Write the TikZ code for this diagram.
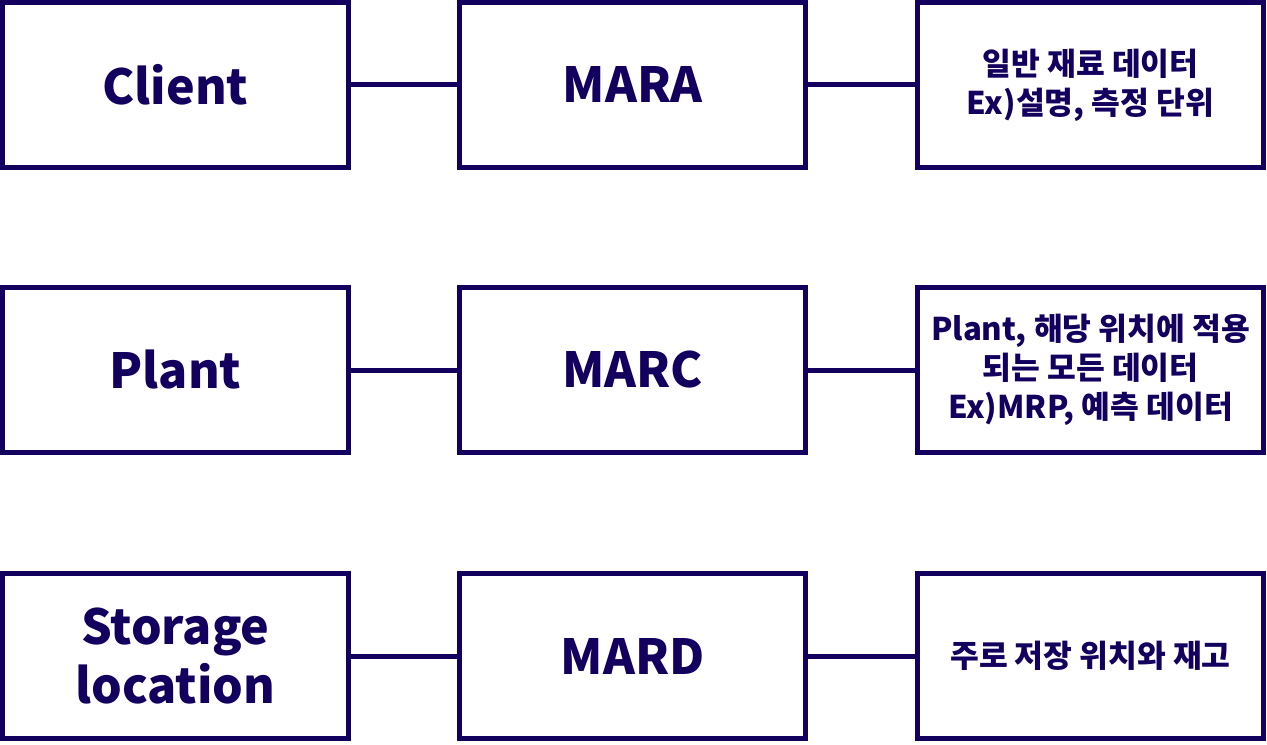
\documentclass[tikz,border=0pt]{standalone}
\usepackage{fontspec}
\setmainfont{Noto Sans CJK KR}
\definecolor{navy}{HTML}{13005E}

\begin{document}
\begin{tikzpicture}[
    box/.style={draw=navy, line width=0.1cm, minimum width=6.92cm, minimum height=3.3cm,
      align=center, text=navy, font=\bfseries\fontsize{27.5}{33.5}\selectfont},
    note/.style={box, font=\bfseries\fontsize{17.8}{22.3}\selectfont},
    link/.style={draw=navy, line width=0.1cm}
  ]
  \useasboundingbox (0,0) rectangle (25.34,-14.9);

  \node[box] (client) at (3.51,-1.7) {Client};
  \node[box] (mara) at (12.655,-1.7) {MARA};
  \node[note] (maranote) at (21.81,-1.7) {일반 재료 데이터\\Ex)설명, 측정 단위};

  \node[box] (plant) at (3.51,-7.4) {Plant};
  \node[box] (marc) at (12.655,-7.4) {MARC};
  \node[note] (marcnote) at (21.81,-7.4) {Plant, 해당 위치에 적용\\되는 모든 데이터\\Ex)MRP, 예측 데이터};

  \node[box] (storage) at (3.51,-13.12) {Storage\\location};
  \node[box] (mard) at (12.655,-13.12) {MARD};
  \node[note] (mardnote) at (21.81,-13.12) {주로 저장 위치와 재고};

  \draw[link] (client) -- (mara);
  \draw[link] (mara) -- (maranote);
  \draw[link] (plant) -- (marc);
  \draw[link] (marc) -- (marcnote);
  \draw[link] (storage) -- (mard);
  \draw[link] (mard) -- (mardnote);
\end{tikzpicture}
\end{document}
